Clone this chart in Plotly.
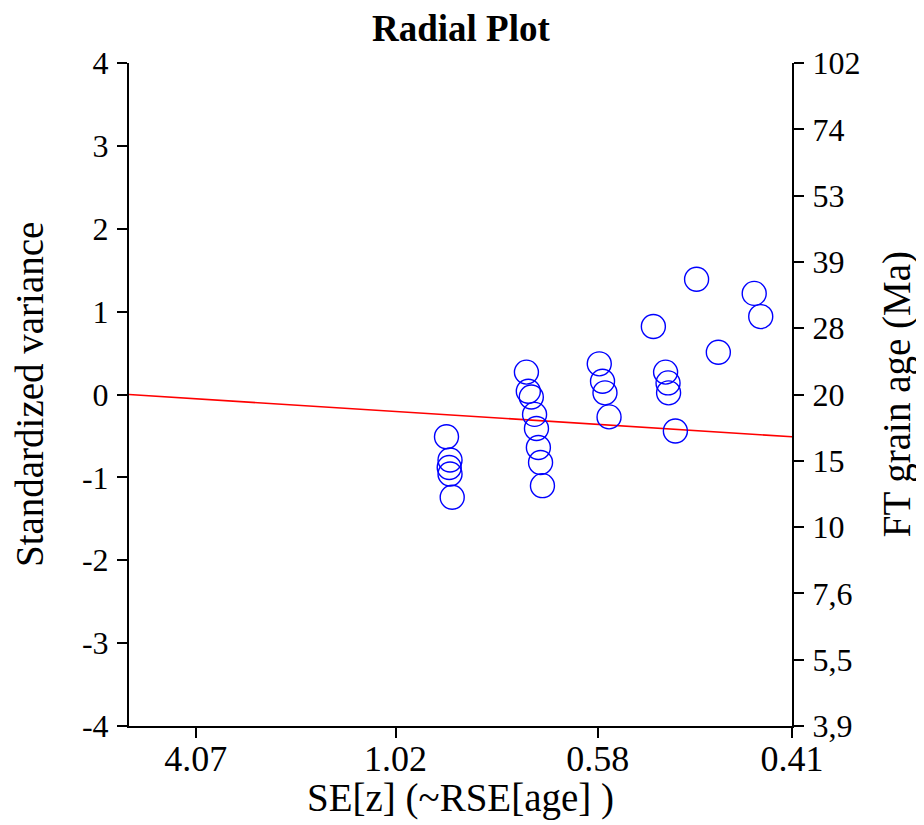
import plotly.graph_objects as go

# precision (1/SE) and standardized estimate for each grain
precision = [1.168, 1.181, 1.178, 1.181, 1.189,
             1.462, 1.469, 1.480, 1.492, 1.499, 1.506, 1.514, 1.521,
             1.730, 1.742, 1.751, 1.766,
             1.929, 1.974, 1.983, 1.985, 2.010,
             2.088, 2.168, 2.300, 2.324]
std_est = [-0.51, -0.79, -0.88, -0.96, -1.24,
           0.27, 0.04, -0.03, -0.24, -0.41, -0.64, -0.82, -1.10,
           0.37, 0.16, 0.02, -0.27,
           0.82, 0.27, 0.14, 0.02, -0.44,
           1.39, 0.51, 1.22, 0.94]

# central age line
line_x = [0, 1 / 0.41]
line_y = [0, -0.51]

se_labels = ['4.07', '1.02', '0.58', '0.41']
left_ticks = [4, 3, 2, 1, 0, -1, -2, -3, -4]
age_labels = ['102', '74', '53', '39', '28', '20', '15', '10', '7,6', '5,5', '3,9']
age_pos = [4, 3.2, 2.4, 1.6, 0.8, 0, -0.8, -1.6, -2.4, -3.2, -4]

serif = 'Liberation Serif'
axis_style = dict(showgrid=False, zeroline=False, showline=True, linecolor='black',
                  linewidth=2, ticks='outside', ticklen=10, tickwidth=2,
                  tickcolor='black')

fig = go.Figure()
fig.add_trace(go.Scatter(x=line_x, y=line_y, mode='lines',
                         line=dict(color='red', width=1.6), showlegend=False))
fig.add_trace(go.Scatter(x=precision, y=std_est, mode='markers',
                         marker=dict(symbol='circle-open', size=24,
                                     color='blue', line=dict(width=1.4)),
                         showlegend=False))
# dummy trace to activate right axis
fig.add_trace(go.Scatter(x=[0], y=[0], yaxis='y2', mode='markers',
                         marker=dict(opacity=0), showlegend=False, hoverinfo='skip'))

fig.update_layout(
    width=924, height=825,
    margin=dict(l=121, r=140, t=55, b=107),
    plot_bgcolor='white', paper_bgcolor='white',
    font=dict(family=serif, size=32, color='black'),
    xaxis=dict(range=[0, 1 / 0.41], tickvals=[1 / float(s) for s in se_labels],
               ticktext=se_labels, tickfont=dict(size=36), ticklabelstandoff=-10,
               **axis_style),
    yaxis=dict(range=[-4, 4], tickvals=left_ticks,
               ticktext=[str(v) for v in left_ticks], ticklabelstandoff=2,
               **axis_style),
    yaxis2=dict(range=[-4, 4], overlaying='y', side='right', tickvals=age_pos,
                ticktext=age_labels, ticklabelstandoff=2, **axis_style),
    annotations=[
        dict(text='<b>Radial Plot</b>', xref='paper', yref='paper', x=0.5, y=1.052,
             showarrow=False, font=dict(size=37), xanchor='center', yanchor='middle'),
        dict(text='Standardized variance', xref='paper', yref='paper', x=-0.150, y=0.5,
             textangle=-90, showarrow=False, font=dict(size=39),
             xanchor='center', yanchor='middle'),
        dict(text='FT grain age (Ma)', xref='paper', yref='paper', x=1.158, y=0.5,
             textangle=-90, showarrow=False, font=dict(size=39),
             xanchor='center', yanchor='middle'),
        dict(text='SE[z] (~RSE[age] )', xref='paper', yref='paper', x=0.5, y=-0.108,
             showarrow=False, font=dict(size=39), xanchor='center', yanchor='middle'),
    ],
)

fig.write_html("out.html")
